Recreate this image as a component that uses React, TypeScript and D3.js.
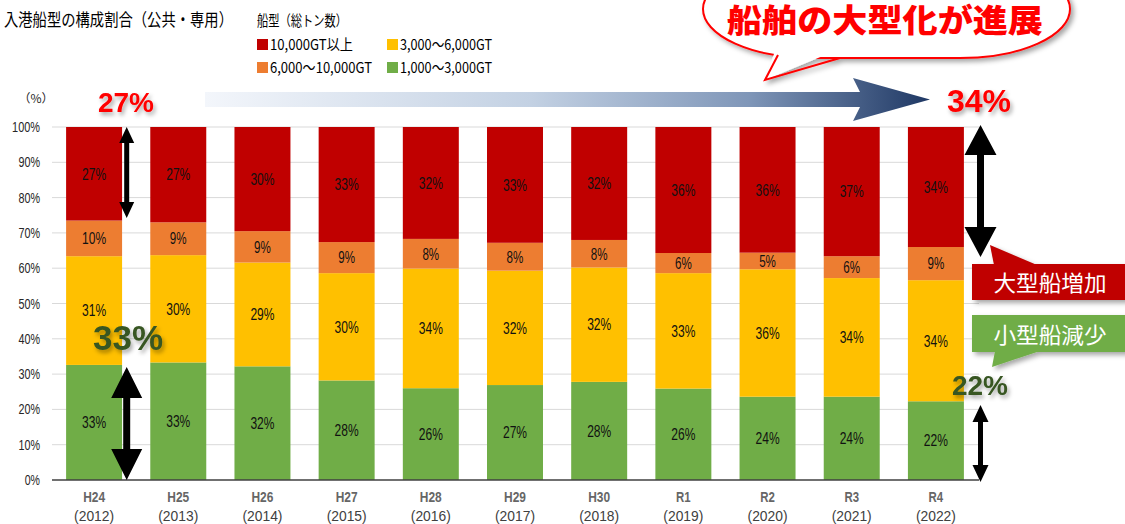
import React from "react";
import * as d3 from "d3";

const categories = ["H24", "H25", "H26", "H27", "H28", "H29", "H30", "R1", "R2", "R3", "R4"];
const years = ["(2012)", "(2013)", "(2014)", "(2015)", "(2016)", "(2017)", "(2018)", "(2019)", "(2020)", "(2021)", "(2022)"];
// shares (%) by gross tonnage class, bottom to top
const small1000 = [32.6, 33.3, 32.2, 28.2, 26.0, 26.9, 27.8, 25.9, 23.6, 23.6, 22.3];
const mid3000 = [30.8, 30.4, 29.4, 30.4, 33.9, 32.4, 32.4, 32.7, 36.1, 33.6, 34.3];
const mid6000 = [10.1, 9.3, 8.9, 8.8, 8.4, 7.9, 7.8, 5.7, 4.7, 6.2, 9.4];
const large10000 = [26.5, 27.0, 29.5, 32.6, 31.7, 32.8, 32.0, 35.7, 35.6, 36.6, 34.0];
const seriesKeys = ["s1000", "s3000", "s6000", "s10000"];
const seriesNames = ["1,000～3,000GT", "3,000～6,000GT", "6,000～10,000GT", "10,000GT以上"];
const seriesColors = ["#70AD47", "#FFC000", "#ED7D31", "#C00000"];
const yTicks = [0, 10, 20, 30, 40, 50, 60, 70, 80, 90, 100];

const SANS = "'Liberation Sans', Arial, sans-serif";
const JP = "'Noto Sans CJK JP', 'Noto Sans', sans-serif";

// narrow text width for "NN%" style labels
const pctLen = (s: string, dw: number, pw: number) => (s.length - 1) * dw + pw;

export default function App() {
  const W = 1125, H = 524;
  const rows = categories.map((c, i) => ({
    cat: c,
    s1000: small1000[i],
    s3000: mid3000[i],
    s6000: mid6000[i],
    s10000: large10000[i],
  }));
  const stack = d3.stack<any>().keys(seriesKeys)(rows);
  const x = d3.scaleBand().domain(categories).range([52, 978]).paddingInner(0.335).paddingOuter(0.1675);
  const y = d3.scaleLinear().domain([0, 100]).range([480, 127]);

  const legendItems = [
    { i: 3, lx: 257, ly: 39, tl: 83 },
    { i: 1, lx: 387, ly: 39, tl: 92 },
    { i: 2, lx: 257, ly: 62, tl: 102 },
    { i: 0, lx: 387, ly: 62, tl: 92 },
  ];

  const dblArrow = (cx: number, y1: number, y2: number, hw: number, hh: number, sw: number) => {
    const p = [
      [cx, y1], [cx + hw / 2, y1 + hh], [cx + sw / 2, y1 + hh], [cx + sw / 2, y2 - hh],
      [cx + hw / 2, y2 - hh], [cx, y2], [cx - hw / 2, y2 - hh], [cx - sw / 2, y2 - hh],
      [cx - sw / 2, y1 + hh], [cx - hw / 2, y1 + hh],
    ];
    return p.map((q) => q.join(",")).join(" ");
  };

  return (
    <svg width={W} height={H} style={{ position: "absolute", left: 0, top: 0, background: "#fff" }}>
      <defs>
        <filter id="tshadow" x="-20%" y="-30%" width="150%" height="170%">
          <feDropShadow dx="2" dy="3" stdDeviation="2" floodColor="#000" floodOpacity="0.35" />
        </filter>
        <filter id="bshadow" x="-10%" y="-20%" width="130%" height="160%">
          <feDropShadow dx="3" dy="3" stdDeviation="2.5" floodColor="#000" floodOpacity="0.35" />
        </filter>
        <linearGradient id="arrowGrad" x1="205" y1="0" x2="930" y2="0" gradientUnits="userSpaceOnUse">
          <stop offset="0" stopColor="#f3f6fb" />
          <stop offset="0.45" stopColor="#c3d1e3" />
          <stop offset="0.75" stopColor="#7f96b8" />
          <stop offset="1" stopColor="#1f3864" />
        </linearGradient>
      </defs>

      {/* title */}
      <text x={4} y={26} fontFamily={JP} fontSize={17.5} fill="#000" textLength={229} lengthAdjust="spacingAndGlyphs">
        入港船型の構成割合（公共・専用）
      </text>
      {/* legend */}
      <text x={257} y={26} fontFamily={JP} fontSize={14.5} fill="#000" textLength={90} lengthAdjust="spacingAndGlyphs">
        船型（総トン数）
      </text>
      {legendItems.map((l) => (
        <g key={l.i}>
          <rect x={l.lx} y={l.ly} width={11} height={11} fill={seriesColors[l.i]} />
          <text x={l.lx + 13} y={l.ly + 11} fontFamily={JP} fontSize={15} fill="#000" textLength={l.tl} lengthAdjust="spacingAndGlyphs">
            {seriesNames[l.i]}
          </text>
        </g>
      ))}

      {/* gridlines */}
      {yTicks.map((t) => {
        const s = `${t}%`;
        return (
          <g key={t}>
            {t > 0 && <line x1={52} x2={979} y1={y(t)} y2={y(t)} stroke="#d9d9d9" strokeWidth={1} />}
            <text x={40} y={y(t)} dy="0.35em" textAnchor="end" fontFamily={SANS} fontSize={14.5} fill="#262626"
              textLength={pctLen(s, 6.3, 9)} lengthAdjust="spacingAndGlyphs">
              {s}
            </text>
          </g>
        );
      })}
      <text x={36} y={99} dy="0.35em" textAnchor="middle" fontFamily={JP} fontSize={12} fill="#262626">（%）</text>

      {/* bars */}
      {stack.map((s, si) => (
        <g key={s.key}>
          {s.map((d, i) => {
            const x0 = x(categories[i])!;
            const y0 = y(d[1]);
            const y1 = y(d[0]);
            const lab = `${Math.round(d[1] - d[0])}%`;
            return (
              <g key={i}>
                <rect x={x0} y={y0} width={x.bandwidth()} height={y1 - y0} fill={seriesColors[si]} />
                <text
                  x={x0 + x.bandwidth() / 2}
                  y={(y0 + y1) / 2}
                  dy="0.35em"
                  textAnchor="middle"
                  fontFamily={SANS}
                  fontSize={16.5}
                  fill="#111"
                  textLength={pctLen(lab, 7.3, 9.5)}
                  lengthAdjust="spacingAndGlyphs"
                >
                  {lab}
                </text>
              </g>
            );
          })}
        </g>
      ))}
      <line x1={52} x2={979} y1={480} y2={480} stroke="#404040" strokeWidth={1.5} />
      {categories.map((c, i) => (
        <g key={c}>
          <text x={x(c)! + x.bandwidth() / 2} y={497} dy="0.35em" textAnchor="middle" fontFamily={SANS} fontSize={15} fontWeight="bold" fill="#666"
            textLength={c.length * 7.3} lengthAdjust="spacingAndGlyphs">
            {c}
          </text>
          <text x={x(c)! + x.bandwidth() / 2} y={516} dy="0.35em" textAnchor="middle" fontFamily={SANS} fontSize={15} fill="#404040"
            textLength={40} lengthAdjust="spacingAndGlyphs">
            {years[i]}
          </text>
        </g>
      ))}

      {/* callout bubble */}
      <g filter="url(#bshadow)">
        <rect x={703} y={-40} width={367} height={98} rx={110} ry={49} fill="#fff" stroke="#ff0000" strokeWidth={2} />
        <polygon points="776,48 765,80 842,48" fill="#fff" />
        <polyline points="778,55 765,80 840,58" fill="none" stroke="#ff0000" strokeWidth={2} />
      </g>
      <text x={727} y={32} fontFamily={JP} fontWeight={900} fontSize={32} fill="#ff0000" textLength={316} lengthAdjust="spacingAndGlyphs">
        船舶の大型化が進展
      </text>

      {/* gradient trend arrow */}
      <polygon
        points="205,92 860,92 853,78 930,99.5 853,121 860,107 205,107"
        fill="url(#arrowGrad)"
      />

      {/* big annotations */}
      <text x={126} y={112} textAnchor="middle" fontFamily={SANS} fontWeight="bold" fontSize={28} fill="#ff0000" filter="url(#tshadow)">27%</text>
      <text x={979} y={112} textAnchor="middle" fontFamily={SANS} fontWeight="bold" fontSize={32} fill="#ff0000" filter="url(#tshadow)">34%</text>
      <text x={128} y={350} textAnchor="middle" fontFamily={SANS} fontWeight="bold" fontSize={35} fill="#375623" filter="url(#tshadow)">33%</text>
      <text x={980} y={395} textAnchor="middle" fontFamily={SANS} fontWeight="bold" fontSize={28} fill="#375623" filter="url(#tshadow)">22%</text>

      {/* double arrows */}
      <polygon points={dblArrow(126.7, 127, 218, 15, 16, 5)} fill="#000" />
      <polygon points={dblArrow(126.7, 367, 480, 31, 31, 7)} fill="#000" />
      <polygon points={dblArrow(980.5, 125, 257, 32, 30, 7)} fill="#000" />
      <polygon points={dblArrow(980.5, 405, 482, 16, 17, 5)} fill="#000" />

      {/* side labels */}
      <g filter="url(#bshadow)">
        <rect x={972} y={264} width={160} height={36} fill="#C00000" />
        <polygon points="990,245 994,265 1037,265" fill="#C00000" />
      </g>
      <text x={1050} y={283} dy="0.35em" textAnchor="middle" fontFamily={JP} fontSize={22} fill="#fff" textLength={113} lengthAdjust="spacingAndGlyphs">大型船増加</text>
      <g filter="url(#bshadow)">
        <rect x={972} y={315} width={160} height={37} fill="#70AD47" />
        <polygon points="995,351 992,367 1040,351" fill="#70AD47" />
      </g>
      <text x={1050} y={335} dy="0.35em" textAnchor="middle" fontFamily={JP} fontSize={22} fill="#fff" textLength={113} lengthAdjust="spacingAndGlyphs">小型船減少</text>
    </svg>
  );
}
